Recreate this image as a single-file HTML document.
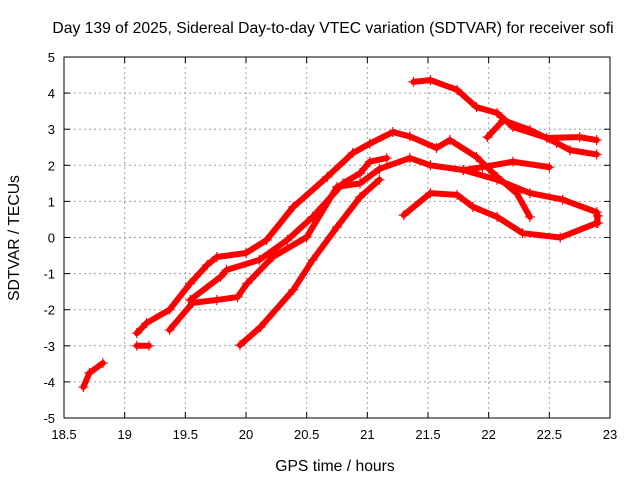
<!DOCTYPE html>
<html><head><meta charset="utf-8"><style>
body{margin:0;background:#fff;font-family:"Liberation Sans",sans-serif}
svg text{font-family:"Liberation Sans",sans-serif;font-size:13px;fill:#000}
svg text.big{font-size:15.7px}
</style></head><body>
<svg id="c" width="640" height="480"></svg>
<script>
const xTicks=[18.5,19,19.5,20,20.5,21,21.5,22,22.5,23];
const yTicks=[-5,-4,-3,-2,-1,0,1,2,3,4,5];
const s1x=[19.1,19.18,19.37,19.54,19.68,19.76,20.0,20.17,20.39,20.67,20.88,21.02,21.21,21.35,21.57,21.68,21.9,22.07,22.23,22.34];
const s1y=[-2.65,-2.37,-2.0,-1.27,-0.76,-0.54,-0.43,-0.07,0.85,1.68,2.34,2.6,2.92,2.8,2.48,2.7,2.23,1.68,1.23,0.57];
const s2x=[19.54,19.79,19.84,20.11,20.34,20.55,20.8,20.94,21.02,21.16];
const s2y=[-1.73,-1.09,-0.9,-0.62,-0.07,0.57,1.5,1.78,2.1,2.2];
const s3x=[19.37,19.56,19.76,19.93,20.01,20.22,20.5,20.75,20.94,21.1,21.35,21.52,21.79,21.95,22.2,22.5];
const s3y=[-2.56,-1.81,-1.73,-1.65,-1.27,-0.54,0.01,1.4,1.5,1.9,2.2,2.0,1.87,1.95,2.1,1.95];
const s4x=[21.79,22.07,22.34,22.61,22.89,22.9];
const s4y=[1.87,1.6,1.23,1.05,0.7,0.4];
const s5x=[19.95,20.12,20.39,20.55,20.75,20.94,21.1];
const s5y=[-2.98,-2.48,-1.45,-0.62,0.29,1.12,1.6];
const s6x=[21.3,21.52,21.74,21.87,22.07,22.28,22.59,22.89,22.9];
const s6y=[0.62,1.23,1.18,0.85,0.57,0.12,0.0,0.4,0.6];
const s7x=[21.38,21.52,21.74,21.9,22.07,22.2,22.48,22.75,22.89];
const s7y=[4.31,4.36,4.09,3.61,3.45,3.06,2.76,2.78,2.7];
const s8x=[21.99,22.12,22.34,22.56,22.67,22.89];
const s8y=[2.78,3.25,2.98,2.62,2.42,2.3];
const s9x=[18.66,18.71,18.82];
const s9y=[-4.14,-3.75,-3.48];
const s10x=[19.1,19.2];
const s10y=[-3.0,-3.0];
const series=[[s1x,s1y],[s2x,s2y],[s3x,s3y],[s4x,s4y],[s5x,s5y],[s6x,s6y],[s7x,s7y],[s8x,s8y],[s9x,s9y],[s10x,s10y]];
const L=64,R=610,T=57,B=418;
const X=v=>L+(v-18.5)/4.5*(R-L);
const Y=v=>B-(v+5)/10*(B-T);
const svg=document.getElementById('c');const NS='http://www.w3.org/2000/svg';
function mk(t,a,p){const e=document.createElementNS(NS,t);for(const k in a)e.setAttribute(k,a[k]);(p||svg).appendChild(e);return e;}
const t=mk('text',{x:333,y:33,'text-anchor':'middle',class:'big'});


t.textContent='Day 139 of 2025, Sidereal Day-to-day VTEC variation (SDTVAR) for receiver sofi';
xTicks.forEach(v=>{
 if(v>18.5&&v<23){const g=mk('line',{x1:X(v),x2:X(v),y1:T,y2:B,stroke:'#a0a0a0','stroke-dasharray':'2,3'});
 
 }
 mk('line',{x1:X(v),x2:X(v),y1:B,y2:B-6,stroke:'#000'});mk('line',{x1:X(v),x2:X(v),y1:T,y2:T+6,stroke:'#000'});
 const l=mk('text',{x:X(v),y:B+21,'text-anchor':'middle'});
 
 
 l.textContent=v;});
yTicks.forEach(v=>{
 if(v>-5&&v<5){const g=mk('line',{x1:L,x2:R,y1:Y(v),y2:Y(v),stroke:'#a0a0a0','stroke-dasharray':'2,3'});
 
 }
 mk('line',{x1:L,x2:L+6,y1:Y(v),y2:Y(v),stroke:'#000'});mk('line',{x1:R,x2:R-6,y1:Y(v),y2:Y(v),stroke:'#000'});
 const l=mk('text',{x:L-9,y:Y(v)+5,'text-anchor':'end'});
 
 
 l.textContent=v;});
const fr=mk('rect',{x:L,y:T,width:R-L,height:B-T,fill:'none',stroke:'#000'});


series.forEach(([xs,ys],i)=>{
 const p=mk('polyline',{points:xs.map((x,j)=>X(x)+','+Y(ys[j])).join(' '),fill:'none',stroke:'#f00','stroke-width':6,'stroke-linejoin':'round','stroke-linecap':'round'});
 
 
 xs.forEach((x,j)=>{const m=mk('path',{d:`M${X(x)-5},${Y(ys[j])}h10M${X(x)},${Y(ys[j])-5}v10`,stroke:'#f00','stroke-width':1.2});
 
 });
});
const xl=mk('text',{x:335,y:471,'text-anchor':'middle',class:'big'});


xl.textContent='GPS time / hours';
const yl=mk('text',{x:19,y:238,'text-anchor':'middle',class:'big',transform:'rotate(-90 19 238)'});


yl.textContent='SDTVAR / TECUs';
</script></body></html>
